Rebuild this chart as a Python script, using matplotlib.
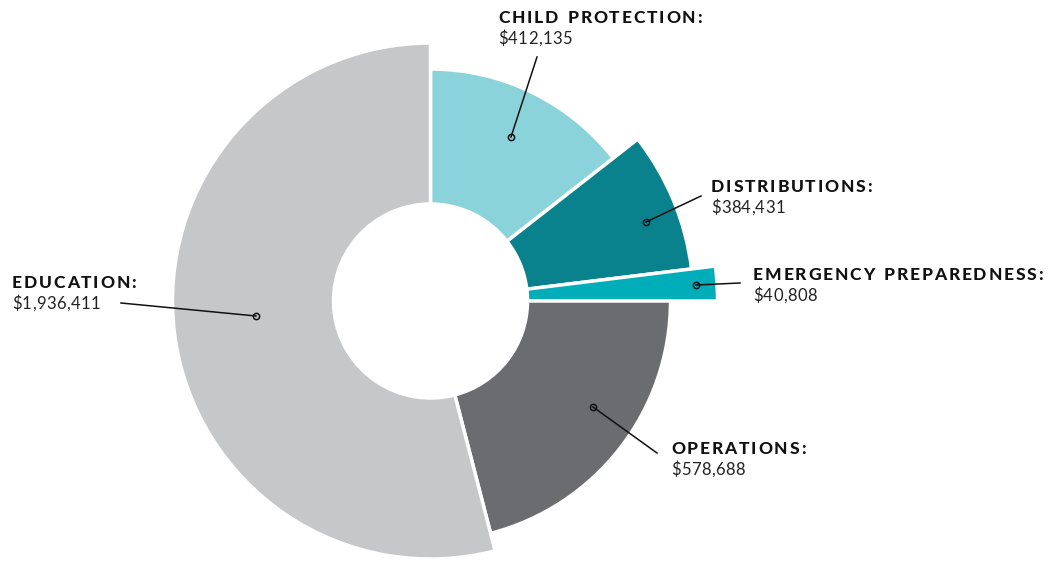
import matplotlib
matplotlib.use("Agg")
import matplotlib.pyplot as plt
from matplotlib.patches import Wedge

# data, in drawing order (clockwise from 12 o'clock)
categories = ["CHILD PROTECTION:", "DISTRIBUTIONS:", "EMERGENCY PREPAREDNESS:",
              "OPERATIONS:", "EDUCATION:"]
amounts = [412135, 384431, 40808, 578688, 1936411]
# angular share of each slice (degrees) and its outer radius
angle_deg = [52, 31, 7, 75.5, 194.5]
outer_radius = [232, 263, 287, 240, 258]
colors = ["#8bd3db", "#0a828d", "#00adb9", "#6b6c70", "#c6c7c9"]

W, H = 1053, 561
CENTER = (430.5, 301)
INNER = 97

# label layout (pixel coords): heading x, heading baseline, dot, line end
label_xy = [(498, 23), (711, 192), (753, 280), (671, 454), (12, 288)]
dot_xy = [(511, 137), (646, 222), (696, 285), (593, 407), (256, 316)]
line_end = [(537, 57), (701, 196), (740, 283), (657, 453), (121, 303)]


def spaced_text(ax, x, y, s, spacing, **kw):
    # matplotlib has no letter-spacing, so lay the text out char by char
    renderer = ax.figure.canvas.get_renderer()
    for ch in s:
        if ch == " ":
            x += 6 + spacing
            continue
        t = ax.text(x, y, ch, **kw)
        x += t.get_window_extent(renderer).width + spacing


fig = plt.figure(figsize=(W / 100, H / 100), dpi=100)
ax = fig.add_axes([0, 0, 1, 1])
ax.set_xlim(0, W)
ax.set_ylim(H, 0)
ax.axis("off")

start = 90
for share, r, c in zip(angle_deg, outer_radius, colors):
    a1, a2 = start - share, start
    # y axis is inverted, so screen angles flip sign
    ax.add_patch(Wedge(CENTER, r, -a2, -a1, width=r - INNER,
                       facecolor=c, edgecolor="white", linewidth=2.5))
    start -= share

for name, amt, (lx, ly), (dx, dy), (ex, ey) in zip(categories, amounts, label_xy,
                                                  dot_xy, line_end):
    ax.plot([dx, ex], [dy, ey], color="#111111", linewidth=1.1, zorder=3)
    ax.plot(dx, dy, "o", markersize=4.5, markerfacecolor="none",
            markeredgecolor="#111111", markeredgewidth=1.1, zorder=4)
    spaced_text(ax, lx, ly, name, 1.8, family="Lato", fontweight="black",
                fontsize=12.5, color="#111111", va="baseline")
    spaced_text(ax, lx, ly + 21, f"${amt:,}", 0.4, family="Lato", fontsize=12,
                color="#222222", va="baseline")

fig.savefig("out.png", dpi=100)
